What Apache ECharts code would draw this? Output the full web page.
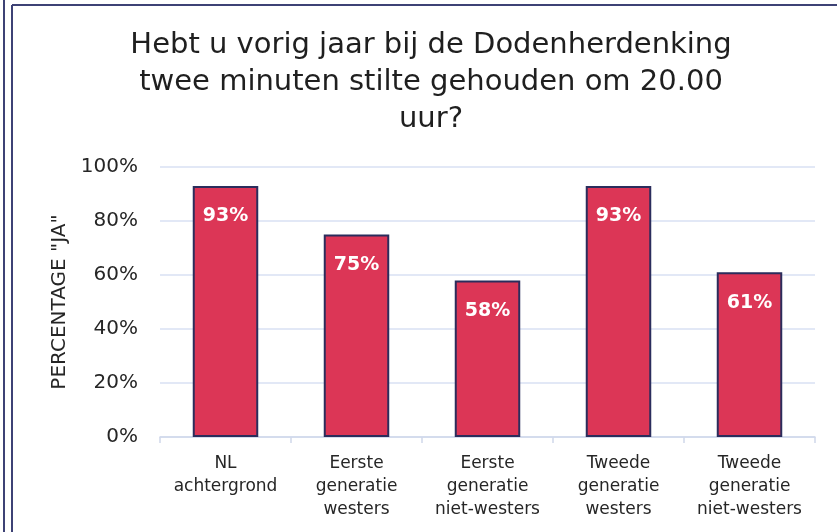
<!DOCTYPE html>
<html>
<head>
<meta charset="utf-8">
<script src="https://cdn.jsdelivr.net/npm/echarts@6/dist/echarts.min.js"></script>
<style>
  html, body { margin: 0; padding: 0; background: #fff; }
  #chart { width: 837px; height: 532px; }
</style>
</head>
<body>
<div id="chart"></div>
<script>
"use strict";

// data
var categories = ["NL\nachtergrond", "Eerste\ngeneratie\nwesters", "Eerste\ngeneratie\nniet-westers", "Tweede\ngeneratie\nwesters", "Tweede\ngeneratie\nniet-westers"];
var values = [93, 75, 58, 93, 61];
var yTicks = [0, 20, 40, 60, 80, 100];

var chart = echarts.init(document.getElementById("chart"));
var font = "DejaVu Sans";

var option = {
	backgroundColor: "#ffffff",
	animation: false,
	title: {
		text: "Hebt u vorig jaar bij de Dodenherdenking\ntwee minuten stilte gehouden om 20.00\nuur?",
		left: 426,
		top: 22,
		textAlign: "center",
		textStyle: {
			fontFamily: font,
			fontSize: 29,
			fontWeight: "normal",
			color: "#1f1f1f",
			lineHeight: 37
		}
	},
	grid: {
		left: 160,
		right: 22,
		top: 167,
		bottom: 95
	},
	xAxis: {
		type: "category",
		data: categories,
		axisLine: { lineStyle: { color: "#cfd8ea", width: 1.5 } },
		axisTick: { show: true, length: 6, lineStyle: { color: "#cfd8ea", width: 1.5 } },
		axisLabel: {
			interval: 0,
			fontFamily: font,
			fontSize: 17,
			color: "#262626",
			lineHeight: 23,
			margin: 15
		}
	},
	yAxis: {
		type: "value",
		min: yTicks[0],
		max: yTicks[yTicks.length - 1],
		interval: 20,
		name: 'PERCENTAGE "JA"',
		nameLocation: "middle",
		nameGap: 88,
		nameTextStyle: {
			fontFamily: font,
			fontSize: 20,
			color: "#262626"
		},
		axisLine: { show: false },
		axisTick: { show: false },
		axisLabel: {
			formatter: "{value}%",
			fontFamily: font,
			fontSize: 20,
			color: "#262626",
			margin: 22
		},
		splitLine: { lineStyle: { color: "#d9e1f3", width: 1.5 } }
	},
	series: [{
		type: "bar",
		data: values,
		barWidth: "50%",
		itemStyle: {
			color: "#dc3656",
			borderColor: "#2b2d5c",
			borderWidth: 2
		},
		label: {
			show: true,
			position: "insideTop",
			distance: 21,
			formatter: "{c}%",
			fontFamily: font,
			fontSize: 19,
			fontWeight: "bold",
			color: "#ffffff"
		}
	}],
	graphic: [
		{ type: "line", shape: { x1: 4, y1: 0, x2: 4, y2: 532 }, style: { stroke: "#3d4275", lineWidth: 2 } },
		{ type: "line", shape: { x1: 12, y1: 5, x2: 12, y2: 532 }, style: { stroke: "#3d4275", lineWidth: 2 } },
		{ type: "line", shape: { x1: 12, y1: 5, x2: 837, y2: 5 }, style: { stroke: "#3d4275", lineWidth: 2 } }
	]
};

chart.setOption(option);
</script>
</body>
</html>
